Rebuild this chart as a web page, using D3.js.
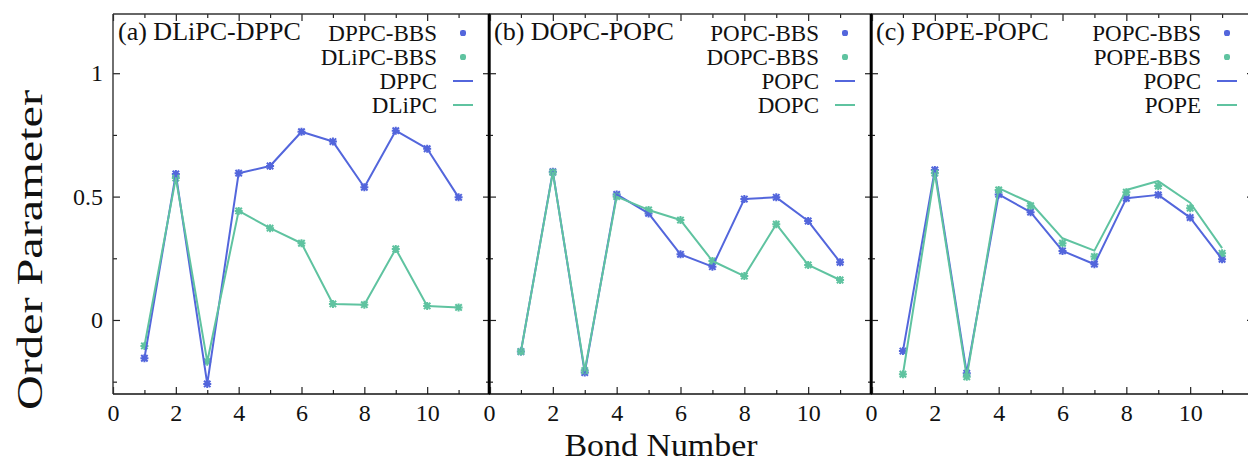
<!DOCTYPE html>
<html>
<head>
<meta charset="utf-8">
<script src="https://cdn.jsdelivr.net/npm/d3@7"></script>
<style>
  body { margin: 0; background: #fff; }
  svg { display: block; }
  text { font-family: "Liberation Serif", "DejaVu Serif", serif; fill: #111; }
</style>
</head>
<body>
<svg id="chart" width="1248" height="463"></svg>
<script>
// Bond index along the acyl chain
const bonds = [1, 2, 3, 4, 5, 6, 7, 8, 9, 10, 11];
const xMajorTicks = [0, 2, 4, 6, 8, 10, 12];
const xMinorTicks = [1, 3, 5, 7, 9, 11];
const yMajorTicks = [0, 0.5, 1];
const yMinorTicks = [-0.25, 0.25, 0.75];

// (a) DLiPC-DPPC mixture
const dppc  = [-0.155, 0.592, -0.259, 0.595, 0.624, 0.763, 0.723, 0.538, 0.767, 0.694, 0.497];
const dlipc = [-0.105, 0.575, -0.169, 0.442, 0.372, 0.311, 0.065, 0.062, 0.288, 0.057, 0.051];

// (b) DOPC-POPC mixture
const popcB = [-0.128, 0.601, -0.213, 0.509, 0.432, 0.266, 0.216, 0.490, 0.497, 0.401, 0.234];
const dopc  = [-0.128, 0.598, -0.205, 0.500, 0.446, 0.405, 0.239, 0.178, 0.388, 0.223, 0.162];

// (c) POPE-POPC mixture
const popcC    = [-0.126, 0.608, -0.216, 0.509, 0.437, 0.280, 0.226, 0.493, 0.507, 0.415, 0.246];
const popeBBS  = [-0.220, 0.595, -0.230, 0.527, 0.463, 0.311, 0.257, 0.518, 0.543, 0.453, 0.270];
const popeLine = [-0.220, 0.595, -0.230, 0.534, 0.475, 0.331, 0.281, 0.527, 0.563, 0.475, 0.291];

const titles = ["(a) DLiPC-DPPC", "(b) DOPC-POPC", "(c) POPE-POPC"];
const legendA = ["DPPC-BBS", "DLiPC-BBS", "DPPC", "DLiPC"];
const legendB = ["POPC-BBS", "DOPC-BBS", "POPC", "DOPC"];
const legendC = ["POPC-BBS", "POPE-BBS", "POPC", "POPE"];

const BLUE = "#5366dc";
const GREEN = "#5fc3a0";

const panels = [
  { title: titles[0], legend: legendA, x0: 113, x1: 490,
    points: [dppc, dlipc], lines: [dppc, dlipc], leftLabels: true },
  { title: titles[1], legend: legendB, x0: 489, x1: 872,
    points: [popcB, dopc], lines: [popcB, dopc], leftLabels: false },
  { title: titles[2], legend: legendC, x0: 871, x1: 1254,
    points: [popcC, popeBBS], lines: [popcC, popeLine], leftLabels: false }
];

const svg = d3.select("#chart");
const plotTop = 14, plotBottom = 394;
const y = d3.scaleLinear().domain([-0.3, 1.24]).range([plotBottom, plotTop]);

const star = s => `M${-s},0H${s}M0,${-s}V${s}M${-s*0.8},${-s*0.8}L${s*0.8},${s*0.8}M${-s*0.8},${s*0.8}L${s*0.8},${-s*0.8}`;

panels.forEach((p, i) => {
  const x = d3.scaleLinear().domain([0, 12]).range([p.x0, p.x1]);
  const g = svg.append("g");
  const colors = [BLUE, GREEN];

  // tick marks on all four sides
  const tick = (axis, vals, size, fmt) => axis.tickValues(vals).tickSize(-size).tickSizeOuter(0)
      .tickPadding(10).tickFormat(fmt || (() => ""));
  const styleAxis = sel => {
    sel.select(".domain").remove();
    sel.selectAll(".tick line").attr("stroke", "#222").attr("stroke-width", 1.2);
    sel.selectAll(".tick text").attr("font-size", 24).attr("font-family", null).attr("fill", "#111");
  };
  g.append("g").attr("transform", `translate(0,${plotBottom})`)
    .call(tick(d3.axisBottom(x), xMajorTicks, 7, d => d === 12 ? "" : d3.format("d")(d))).call(styleAxis);
  g.append("g").attr("transform", `translate(0,${plotBottom})`)
    .call(tick(d3.axisBottom(x), xMinorTicks, 4)).call(styleAxis);
  g.append("g").attr("transform", `translate(0,${plotTop})`)
    .call(tick(d3.axisTop(x), xMajorTicks, 7)).call(styleAxis);
  g.append("g").attr("transform", `translate(0,${plotTop})`)
    .call(tick(d3.axisTop(x), xMinorTicks, 4)).call(styleAxis);
  g.append("g").attr("transform", `translate(${p.x0},0)`)
    .call(tick(d3.axisLeft(y), yMajorTicks, 7, p.leftLabels ? (d => d3.format("")(d)) : null)).call(styleAxis);
  g.append("g").attr("transform", `translate(${p.x0},0)`)
    .call(tick(d3.axisLeft(y), yMinorTicks, 4)).call(styleAxis);
  g.append("g").attr("transform", `translate(${p.x1},0)`)
    .call(tick(d3.axisRight(y), yMajorTicks, 7)).call(styleAxis);
  g.append("g").attr("transform", `translate(${p.x1},0)`)
    .call(tick(d3.axisRight(y), yMinorTicks, 4)).call(styleAxis);

  // points (BBS) then lines
  p.points.forEach((vals, k) => {
    g.append("g").selectAll("path").data(bonds).join("path")
      .attr("transform", (b, j) => `translate(${x(b)},${y(vals[j])})`)
      .attr("d", star(4)).attr("fill", "none")
      .attr("stroke", colors[k]).attr("stroke-width", 2);
  });
  p.lines.forEach((vals, k) => {
    const line = d3.line().x((b) => x(b)).y((b, j) => y(vals[j]));
    g.append("path").datum(bonds).attr("d", line)
      .attr("fill", "none").attr("stroke", colors[k]).attr("stroke-width", 2)
      .attr("stroke-linejoin", "round");
  });

  // frame
  g.append("line").attr("x1", p.x0).attr("x2", p.x1).attr("y1", plotTop).attr("y2", plotTop)
    .attr("stroke", "#333").attr("stroke-width", 1.4);
  g.append("line").attr("x1", p.x0).attr("x2", p.x1).attr("y1", plotBottom).attr("y2", plotBottom)
    .attr("stroke", "#111").attr("stroke-width", 1.6);
  g.append("line").attr("x1", p.x0).attr("x2", p.x0).attr("y1", plotTop).attr("y2", plotBottom)
    .attr("stroke", i === 0 ? "#333" : "#000").attr("stroke-width", i === 0 ? 1.4 : 2.6);
  g.append("line").attr("x1", p.x1).attr("x2", p.x1).attr("y1", plotTop).attr("y2", plotBottom)
    .attr("stroke", "#333").attr("stroke-width", 1.4);

  // panel title
  g.append("text").attr("x", p.x0 + 5).attr("y", 40).attr("font-size", 26).text(p.title);

  // legend
  const lx = p.x1 - 53;
  p.legend.forEach((lab, k) => {
    const ly = 33 + k * 24;
    g.append("text").attr("x", lx).attr("y", ly + 8).attr("text-anchor", "end")
      .attr("font-size", 23).text(lab);
    const c = colors[k % 2];
    if (k < 2) {
      g.append("path").attr("transform", `translate(${lx + 26},${ly})`).attr("d", star(3))
        .attr("fill", "none").attr("stroke", c).attr("stroke-width", 2);
    } else {
      g.append("line").attr("x1", lx + 16).attr("x2", lx + 36).attr("y1", ly).attr("y2", ly)
        .attr("stroke", c).attr("stroke-width", 2);
    }
  });
});

// axis titles
svg.append("text").attr("transform", "translate(42,250) rotate(-90)")
  .attr("text-anchor", "middle").attr("font-size", 36)
  .attr("textLength", 320).attr("lengthAdjust", "spacingAndGlyphs").text("Order Parameter");
svg.append("text").attr("x", 661).attr("y", 456)
  .attr("text-anchor", "middle").attr("font-size", 31)
  .attr("textLength", 193).attr("lengthAdjust", "spacingAndGlyphs").text("Bond Number");
</script>
</body>
</html>
